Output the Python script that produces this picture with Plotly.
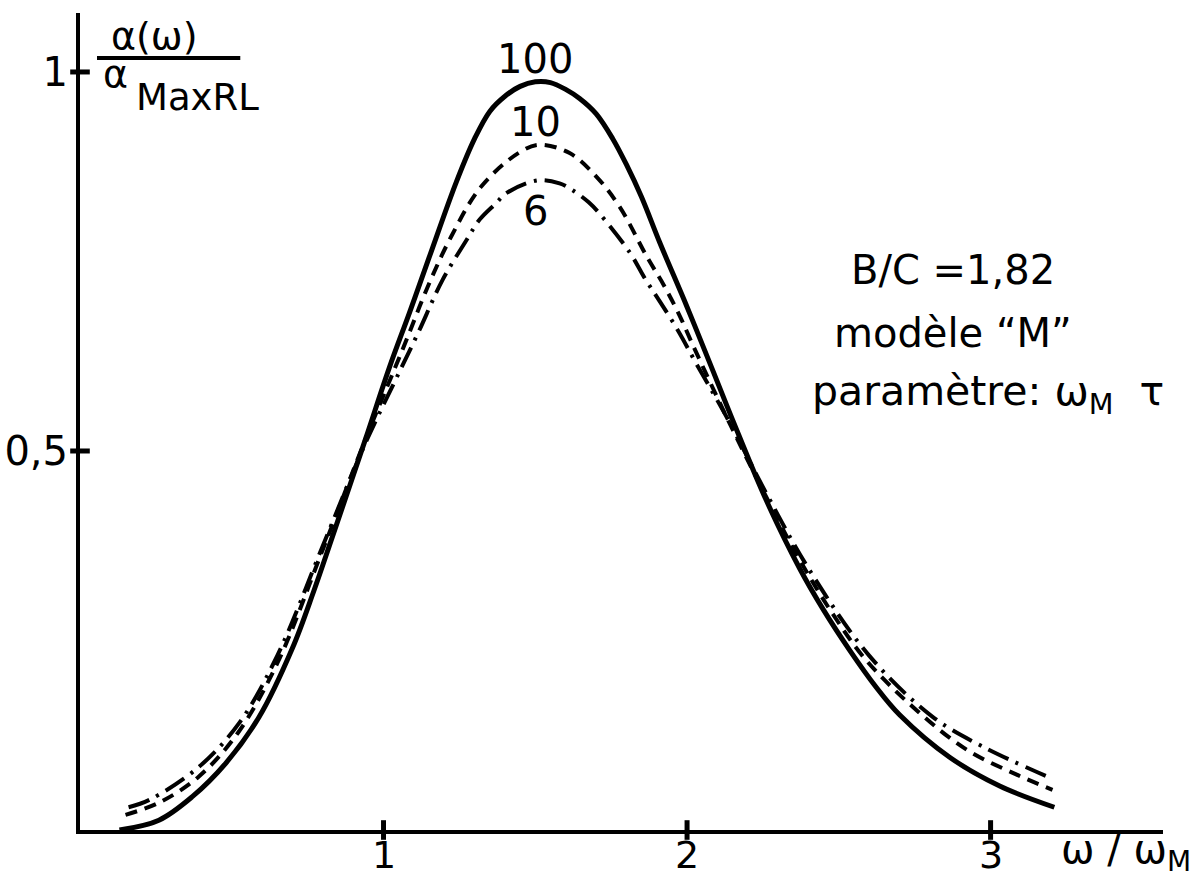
import plotly.graph_objects as go

# ---- data ----
x_100 = [0.13, 0.26, 0.37, 0.48, 0.59, 0.70, 0.77, 0.83, 0.94, 1.02, 1.085, 1.15, 1.24, 1.30, 1.35, 1.40, 1.45, 1.50,
         1.55, 1.60, 1.646, 1.70, 1.755, 1.80, 1.85, 1.91, 2.00, 2.084, 2.151, 2.261, 2.371, 2.45, 2.536, 2.62, 2.70,
         2.865, 3.03, 3.21]
y_100 = [0.000, 0.013, 0.044, 0.088, 0.149, 0.240, 0.315, 0.385, 0.515, 0.611, 0.682, 0.755, 0.855, 0.912, 0.948, 0.968,
         0.981, 0.987, 0.986, 0.977, 0.965, 0.945, 0.912, 0.878, 0.835, 0.775, 0.690, 0.607, 0.540, 0.435, 0.345, 0.290,
         0.237, 0.190, 0.152, 0.096, 0.058, 0.030]

x_10 = [0.15, 0.26, 0.39, 0.52, 0.65, 0.80, 0.94, 1.036, 1.075, 1.146, 1.223, 1.322, 1.448, 1.514,
        1.613, 1.701, 1.778, 1.868, 1.923, 1.975, 2.021, 2.13, 2.26, 2.37, 2.48, 2.59, 2.756, 2.921, 3.086, 3.204]
y_10 = [0.020, 0.036, 0.070, 0.128, 0.220, 0.370, 0.515, 0.608, 0.646, 0.717, 0.783, 0.849, 0.894, 0.904,
        0.893, 0.862, 0.822, 0.756, 0.719, 0.679, 0.638, 0.545, 0.440, 0.357, 0.285, 0.224, 0.158, 0.106, 0.073, 0.053]

x_6 = [0.16, 0.23, 0.394, 0.526, 0.65, 0.80, 0.94, 1.053, 1.113, 1.195, 1.273, 1.316, 1.371, 1.404, 1.508,
       1.58, 1.623, 1.676, 1.712, 1.811, 1.862, 1.909, 1.970, 2.028, 2.13, 2.26, 2.40, 2.60, 2.81, 2.974, 3.195]
y_6 = [0.030, 0.040, 0.084, 0.142, 0.230, 0.375, 0.510, 0.605, 0.655, 0.726, 0.778, 0.805, 0.827, 0.840, 0.857,
       0.853, 0.844, 0.828, 0.813, 0.762, 0.727, 0.698, 0.659, 0.617, 0.545, 0.445, 0.345, 0.230, 0.149, 0.110, 0.069]

x_ticks = [1, 2, 3]
x_ticktext = ["1", "2", "3"]
y_ticks = [0.5, 1]
y_ticktext = ["0,5", "1"]

curve_labels = ["100", "10", "6"]

FONT = "DejaVu Sans"
BLACK = "black"

fig = go.Figure()

fig.add_trace(go.Scatter(x=x_100, y=y_100, mode="lines", line=dict(color=BLACK, width=5, shape="spline"),
                         showlegend=False, hoverinfo="skip"))
fig.add_trace(go.Scatter(x=x_10, y=y_10, mode="lines",
                         line=dict(color=BLACK, width=4, shape="spline", dash="12px,8px"),
                         showlegend=False, hoverinfo="skip"))
fig.add_trace(go.Scatter(x=x_6, y=y_6, mode="lines",
                         line=dict(color=BLACK, width=4, shape="spline", dash="22px,8px,3px,8px"),
                         showlegend=False, hoverinfo="skip"))

# tick marks crossing the axes
fig.add_trace(go.Scatter(x=x_ticks, y=[0] * len(x_ticks), mode="markers", cliponaxis=False,
                         marker=dict(symbol="line-ns", size=14, line=dict(color=BLACK, width=5)),
                         showlegend=False, hoverinfo="skip"))
fig.add_trace(go.Scatter(x=[0] * len(y_ticks), y=y_ticks, mode="markers", cliponaxis=False,
                         marker=dict(symbol="line-ew", size=14, line=dict(color=BLACK, width=5)),
                         showlegend=False, hoverinfo="skip"))

# x tick labels (as annotations so they sit close under the axis)
for tv, tt in zip(x_ticks, x_ticktext):
    fig.add_annotation(x=tv, y=0, xref="x", yref="y", text=tt, showarrow=False, yshift=-2, borderpad=0,
                       font=dict(family=FONT, size=38, color=BLACK), xanchor="center", yanchor="top")

# curve labels near the peaks
def peak(xs, ys):
    i = max(range(len(ys)), key=lambda k: ys[k])
    return xs[i], ys[i]

for (xs, ys), lab, dy in zip([(x_100, y_100), (x_10, y_10), (x_6, y_6)], curve_labels, [0.030, 0.030, -0.040]):
    px_, py_ = peak(xs, ys)
    fig.add_annotation(x=1.50, y=py_ + dy, xref="x", yref="y", text=lab, showarrow=False,
                       font=dict(family=FONT, size=40, color=BLACK), xanchor="center", yanchor="middle")

# text block
fig.add_annotation(x=2.875, y=0.739, xref="x", yref="y", text="B/C =1,82", showarrow=False,
                   font=dict(family=FONT, size=40, color=BLACK), xanchor="center", yanchor="middle")
fig.add_annotation(x=2.875, y=0.656, xref="x", yref="y", text="modèle “M”", showarrow=False,
                   font=dict(family=FONT, size=40, color=BLACK), xanchor="center", yanchor="middle")
fig.add_annotation(x=2.99, y=0.575, xref="x", yref="y", text="paramètre: ω<sub>M</sub>&nbsp; τ", showarrow=False,
                   font=dict(family=FONT, size=41, color=BLACK), xanchor="center", yanchor="middle")

# y axis title as a fraction
fig.add_annotation(x=0.069, y=0.972, xref="paper", yref="paper", text="α(ω)", showarrow=False,
                   font=dict(family=FONT, size=38, color=BLACK), xanchor="center", yanchor="middle")
fig.add_shape(type="line", xref="paper", yref="paper", x0=0.0157, x1=0.148, y0=0.945, y1=0.945,
              line=dict(color=BLACK, width=4))
fig.add_annotation(x=0.019, y=0.925, xref="paper", yref="paper", text="α", showarrow=False,
                   font=dict(family=FONT, size=38, color=BLACK), xanchor="left", yanchor="middle")
fig.add_annotation(x=0.050, y=0.897, xref="paper", yref="paper", text="MaxRL", showarrow=False,
                   font=dict(family=FONT, size=37, color=BLACK), xanchor="left", yanchor="middle")

# x axis title
fig.add_annotation(x=0.966, y=-0.027, xref="paper", yref="paper", text="ω / ω<sub>M</sub>", showarrow=False,
                   font=dict(family=FONT, size=40, color=BLACK), xanchor="center", yanchor="middle")

fig.update_layout(
    width=1200, height=879,
    margin=dict(l=80, r=37, t=13, b=49, autoexpand=False),
    paper_bgcolor="white", plot_bgcolor="white",
    xaxis=dict(range=[0, 3.568], showline=True, linewidth=4, linecolor=BLACK, showgrid=False,
               zeroline=False, tickvals=x_ticks, ticktext=x_ticktext, ticks="", automargin=False,
               showticklabels=False),
    yaxis=dict(range=[0, 1.0778], showline=True, linewidth=4, linecolor=BLACK, showgrid=False,
               zeroline=False, tickvals=y_ticks, ticktext=y_ticktext, ticks="", automargin=False,
               tickfont=dict(family=FONT, size=40, color=BLACK)),
)

fig.write_html("out.html")
